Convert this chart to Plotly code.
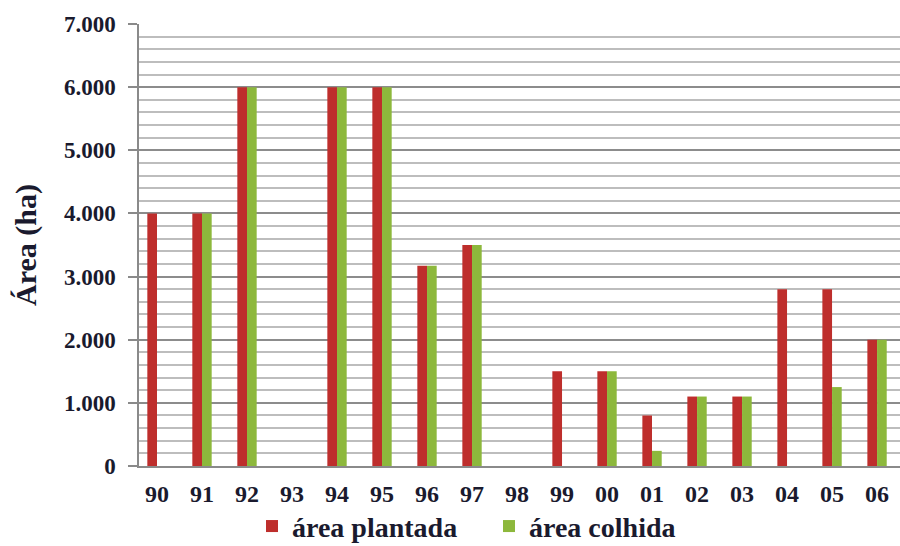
import plotly.graph_objects as go

# Safra por ano: área plantada e área colhida (ha)
anos = ["90", "91", "92", "93", "94", "95", "96", "97", "98",
        "99", "00", "01", "02", "03", "04", "05", "06"]
area_plantada = [4000, 4000, 6000, 0, 6000, 6000, 3170, 3500, 0,
                 1500, 1500, 800, 1100, 1100, 2800, 2800, 2000]
area_colhida = [0, 4000, 6000, 0, 6000, 6000, 3170, 3500, 0,
                0, 1500, 240, 1100, 1100, 0, 1250, 2000]
y_ticks = [0, 1000, 2000, 3000, 4000, 5000, 6000, 7000]
y_tick_labels = ["0", "1.000", "2.000", "3.000", "4.000", "5.000", "6.000", "7.000"]

SERIF = "Liberation Serif, Times New Roman, serif"
TXT = "#1a1a2e"

fig = go.Figure()
fig.add_trace(go.Bar(
    x=anos, y=area_plantada, name="área plantada",
    marker=dict(color="#BE2E2C", line=dict(width=0)),
))
fig.add_trace(go.Bar(
    x=anos, y=area_colhida, name="área colhida",
    marker=dict(color="#8DB83C", line=dict(width=0)),
))

fig.update_layout(
    width=900, height=546,
    margin=dict(l=139, r=0, t=24, b=80, autoexpand=False),
    paper_bgcolor="white", plot_bgcolor="white",
    barmode="group", bargap=0.57, bargroupgap=0,
    font=dict(family=SERIF, color=TXT),
    showlegend=True,
    legend=dict(
        orientation="h", xref="container", yref="container",
        x=0.28, xanchor="left", y=0.036, yanchor="middle",
        font=dict(family=SERIF, size=28, color=TXT, weight="bold"),
        itemwidth=30, entrywidth=192, bgcolor="rgba(0,0,0,0)",
    ),
)

fig.update_xaxes(
    type="category", range=[-0.4, 16.51],
    showline=True, linecolor="#8a8a8a", linewidth=1.5,
    showgrid=False, ticks="",
    tickfont=dict(family=SERIF, size=24, color=TXT, weight="bold"),
    ticklabelstandoff=5,
)

fig.update_yaxes(
    range=[0, 7000],
    tickvals=y_ticks, ticktext=y_tick_labels,
    showgrid=True, gridcolor="#8c8c8c", gridwidth=1.5,
    minor=dict(dtick=200, showgrid=True, gridcolor="#bdbdbd", gridwidth=1.5),
    showline=True, linecolor="#8a8a8a", linewidth=1.5,
    ticks="outside", ticklen=9, tickcolor="#8a8a8a", tickwidth=1.5,
    zeroline=False,
    tickfont=dict(family=SERIF, size=23, color=TXT, weight="bold"),
    ticklabelstandoff=8,
    title=dict(text="Área (ha)", standoff=18,
               font=dict(family=SERIF, size=30, color=TXT, weight="bold")),
)

fig.write_html("out.html")
